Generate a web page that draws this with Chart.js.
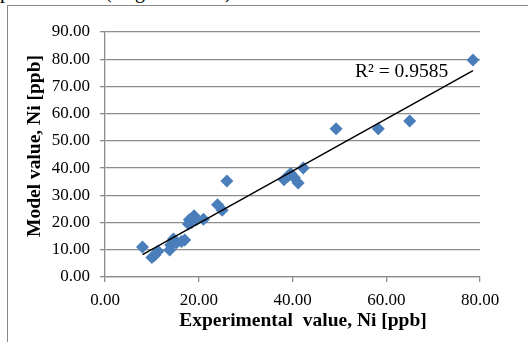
<!DOCTYPE html>
<html>
<head>
<meta charset="utf-8">
<script src="https://cdn.jsdelivr.net/npm/chart.js"></script>
<style>
  html, body { margin: 0; padding: 0; background: #fff; overflow: hidden; }
  body { width: 528px; height: 342px; position: relative; }
  .frame { position: absolute; left: 7px; top: 5px; width: 700px; height: 500px;
           border-left: 1px solid #888; border-top: 1px solid #888; }
  .cut { position: absolute; top: -20px; font: 20px "Liberation Serif", serif; line-height: 23px; color: #000; }
  canvas { position: absolute; left: 0; top: 0; }
</style>
</head>
<body>
<!-- bottom of the previous text line, cut off by the page edge -->
<span class="cut" style="left:0">p</span>
<span class="cut" style="left:105px">(</span>
<span class="cut" style="left:135px">g</span>
<span class="cut" style="left:225px">)</span>
<div class="frame"></div>
<canvas id="chart" width="528" height="342"></canvas>
<script>
// 実測値 / モデル値 (Ni, ppb)
const experimental = [8.0, 10.0, 10.6, 11.3, 13.8, 14.0, 14.6, 15.2, 16.3, 17.0,
  17.8, 18.0, 18.5, 19.0, 19.5, 21.0, 24.0, 25.0, 26.0, 38.2,
  39.0, 39.6, 40.4, 41.2, 42.3, 49.3, 58.3, 65.0, 78.5];
const model = [11.0, 7.2, 8.0, 9.5, 9.9, 11.8, 14.0, 12.5, 13.0, 13.6,
  19.5, 21.0, 20.0, 22.5, 21.0, 21.2, 26.5, 24.5, 35.3, 35.7,
  37.0, 38.0, 36.5, 34.5, 40.0, 54.5, 54.5, 57.3, 79.7];

// 近似直線の両端
const trendX = [8.0, 78.5];
const trendY = [8.2, 75.8];

const xTicks = [0, 20, 40, 60, 80];
const yTicks = [0, 10, 20, 30, 40, 50, 60, 70, 80, 90];
const r2Label = 'R² = 0.9585';
const xTitle = 'Experimental  value, Ni [ppb]';
const yTitle = 'Model value, Ni [ppb]';

const serif = '"Liberation Serif", "Times New Roman", serif';
const grey = '#8c8c8c';

// 軸タイトルとR²ラベルを描く
const textPlugin = {
  id: 'texts',
  afterDraw(chart) {
    const ctx = chart.ctx;
    ctx.save();
    ctx.fillStyle = '#000';
    ctx.font = 'bold 19.5px ' + serif;
    ctx.textAlign = 'center';
    ctx.textBaseline = 'middle';
    ctx.fillText(xTitle, 303, 321);
    ctx.translate(35, 146);
    ctx.rotate(-Math.PI / 2);
    ctx.fillText(yTitle, 0, 0);
    ctx.restore();

    ctx.save();
    ctx.fillStyle = '#000';
    ctx.font = '19.5px ' + serif;
    ctx.textAlign = 'left';
    ctx.textBaseline = 'middle';
    ctx.fillText(r2Label, 355, 72);
    ctx.restore();
  },
};

new Chart(document.getElementById('chart'), {
  type: 'scatter',
  data: {
    datasets: [
      {
        label: 'Ni',
        data: experimental.map((x, i) => ({ x: x, y: model[i] })),
        pointStyle: 'rectRot',
        pointRadius: 6.5,
        backgroundColor: '#4a7ebb',
        borderColor: '#4a7ebb',
        borderWidth: 0,
        order: 1,
      },
      {
        label: 'trend',
        data: trendX.map((x, i) => ({ x: x, y: trendY[i] })),
        showLine: true,
        pointRadius: 0,
        borderColor: '#000',
        borderWidth: 1.5,
        order: 0,
      },
    ],
  },
  options: {
    responsive: false,
    animation: false,
    layout: { padding: { top: 32, right: 48, left: 0, bottom: 0 } },
    plugins: { legend: { display: false }, tooltip: { enabled: false } },
    scales: {
      x: {
        type: 'linear',
        min: 0,
        max: 80,
        afterBuildTicks: axis => { axis.ticks = xTicks.map(v => ({ value: v })); },
        afterFit: axis => { axis.height = 65; },
        ticks: {
          padding: 8,
          color: '#000',
          font: { family: serif, size: 17 },
          callback: v => v.toFixed(2),
        },
        grid: { drawOnChartArea: false, tickLength: 5, color: grey, lineWidth: 1.3 },
        border: { color: grey, width: 1.3 },
      },
      y: {
        min: 0,
        max: 90,
        afterBuildTicks: axis => { axis.ticks = yTicks.map(v => ({ value: v })); },
        afterFit: axis => { axis.width = 105; },
        ticks: {
          padding: 10,
          color: '#000',
          font: { family: serif, size: 17 },
          callback: v => v.toFixed(2),
        },
        grid: { tickLength: 5, color: grey, lineWidth: 1.3 },
        border: { color: grey, width: 1.3 },
      },
    },
  },
  plugins: [textPlugin],
});
</script>
</body>
</html>
